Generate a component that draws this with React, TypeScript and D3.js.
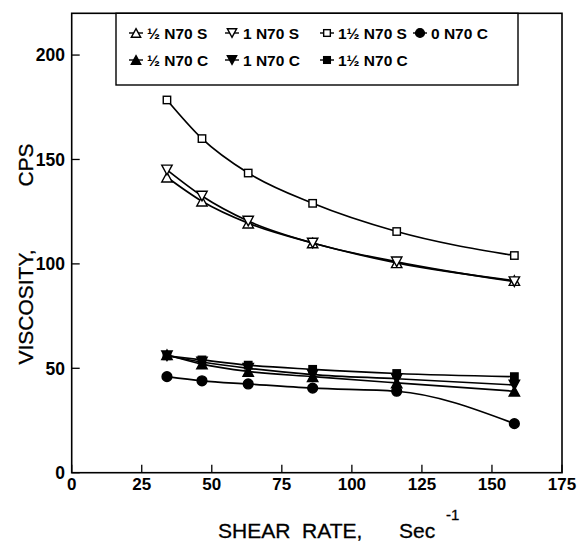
import React from "react";
import * as d3 from "d3";

const shearRates = [34, 46.5, 63, 86, 116, 158];
const halfN70S = [141.5, 130, 119.5, 110, 100.5, 92];
const oneN70S = [145, 132.5, 120.5, 110, 101, 91.5];
const oneHalfN70S = [178.5, 160, 143.5, 129, 115.5, 104];
const zeroN70C = [46, 44, 42.5, 40.5, 39, 23.5];
const halfN70C = [56.5, 52, 48.5, 46, 43, 39];
const oneN70C = [56, 53, 50, 47, 45, 42];
const oneHalfN70C = [56, 54, 51.5, 49.5, 47.5, 46];
const xTicks = [0, 25, 50, 75, 100, 125, 150, 175];
const yTicks = [0, 50, 100, 150, 200];

type Marker = "triUp" | "triDown" | "square" | "circle";
const seriesList: { name: string; values: number[]; marker: Marker; filled: boolean }[] = [
  { name: "½ N70 S", values: halfN70S, marker: "triUp", filled: false },
  { name: "1 N70 S", values: oneN70S, marker: "triDown", filled: false },
  { name: "1½ N70 S", values: oneHalfN70S, marker: "square", filled: false },
  { name: "0 N70 C", values: zeroN70C, marker: "circle", filled: true },
  { name: "½ N70 C", values: halfN70C, marker: "triUp", filled: true },
  { name: "1 N70 C", values: oneN70C, marker: "triDown", filled: true },
  { name: "1½ N70 C", values: oneHalfN70C, marker: "square", filled: true },
];

const FONT = "'Liberation Sans', Arial, Helvetica, sans-serif";

function MarkerShape({ type, filled, x, y, s = 1 }: { type: Marker; filled: boolean; x: number; y: number; s?: number }) {
  const fill = filled ? "#000" : "#fff";
  const sw = 1.4;
  if (type === "square") {
    const h = 3.7 * s;
    return <rect x={x - h} y={y - h} width={2 * h} height={2 * h} fill={fill} stroke="#000" strokeWidth={sw} />;
  }
  if (type === "circle") {
    return <circle cx={x} cy={y} r={4.9 * s} fill={fill} stroke="#000" strokeWidth={sw} />;
  }
  const w = 5.2 * s;
  const h = 4.8 * s;
  const pts =
    type === "triUp"
      ? `${x},${y - h} ${x + w},${y + h} ${x - w},${y + h}`
      : `${x},${y + h} ${x + w},${y - h} ${x - w},${y - h}`;
  return <polygon points={pts} fill={fill} stroke="#000" strokeWidth={sw} strokeLinejoin="miter" />;
}

export default function App() {
  const W = 582;
  const H = 548;
  const x = d3.scaleLinear().domain([0, 175]).range([71.7, 562]);
  const y = d3.scaleLinear().domain([0, 220]).range([472.7, 13.3]);
  const line = d3
    .line<number>()
    .x((_, i) => x(shearRates[i]))
    .y((d) => y(d))
    .curve(d3.curveMonotoneX);

  const legendCols = [136, 232, 327, 420];
  const legendRows = [33, 60];

  return (
    <svg
      width={W}
      height={H}
      style={{ position: "absolute", left: 0, top: 0, background: "#fff" }}
      fontFamily={FONT}
    >
      <rect x={0} y={0} width={W} height={H} fill="#fff" />
      {/* frame */}
      <rect x={x(0)} y={y(220)} width={x(175) - x(0)} height={y(0) - y(220)} fill="none" stroke="#000" strokeWidth={1.6} />
      {/* y ticks */}
      {yTicks.map((t) => (
        <g key={"y" + t}>
          <line x1={x(0)} x2={x(0) + 8} y1={y(t)} y2={y(t)} stroke="#000" strokeWidth={1.3} />
          <text x={65} y={y(t)} dy="0.36em" textAnchor="end" fontSize={17.5} fontWeight="bold">
            {t}
          </text>
        </g>
      ))}
      {/* x ticks */}
      {xTicks.map((t) => (
        <g key={"x" + t}>
          <line x1={x(t)} x2={x(t)} y1={y(0)} y2={y(0) - 8} stroke="#000" strokeWidth={1.3} />
          <text x={x(t)} y={484} dy="0.36em" textAnchor="middle" fontSize={17} fontWeight="bold">
            {t}
          </text>
        </g>
      ))}
      {/* axis titles */}
      <g fontSize={21} stroke="#000" strokeWidth={0.3}>
        <text x={218} y={530} dy="0.36em">SHEAR{"\u00a0\u00a0"}RATE,</text>
        <text x={399} y={530} dy="0.36em">Sec</text>
        <text x={446} y={515} dy="0.36em" fontSize={15}>-1</text>
        <text transform="translate(25,307) rotate(-90)" textAnchor="middle" dy="0.36em">
          VISCOSITY,
        </text>
        <text transform="translate(25,165) rotate(-90)" textAnchor="middle" dy="0.36em">
          CPS
        </text>
      </g>

      {/* series */}
      {seriesList.map((s) => (
        <g key={s.name}>
          <path d={line(s.values) || ""} fill="none" stroke="#000" strokeWidth={1.7} />
          {s.values.map((v, i) => (
            <MarkerShape key={i} type={s.marker} filled={s.filled} x={x(shearRates[i])} y={y(v)} />
          ))}
        </g>
      ))}

      {/* legend */}
      <rect x={116} y={y(220)} width={402} height={85 - y(220)} fill="#fff" stroke="#000" strokeWidth={1.4} />
      {seriesList.map((s, i) => {
        const col = i < 4 ? i : i - 4;
        const row = i < 4 ? 0 : 1;
        const mx = legendCols[col];
        const my = legendRows[row];
        return (
          <g key={"lg" + s.name}>
            <line x1={mx - 7} x2={mx + 7} y1={my} y2={my} stroke="#000" strokeWidth={1.4} />
            <MarkerShape type={s.marker} filled={s.filled} x={mx} y={my} s={0.9} />
            <text x={mx + 11} y={my} dy="0.36em" fontSize={15.5} fontWeight="bold">
              {s.name}
            </text>
          </g>
        );
      })}
    </svg>
  );
}
